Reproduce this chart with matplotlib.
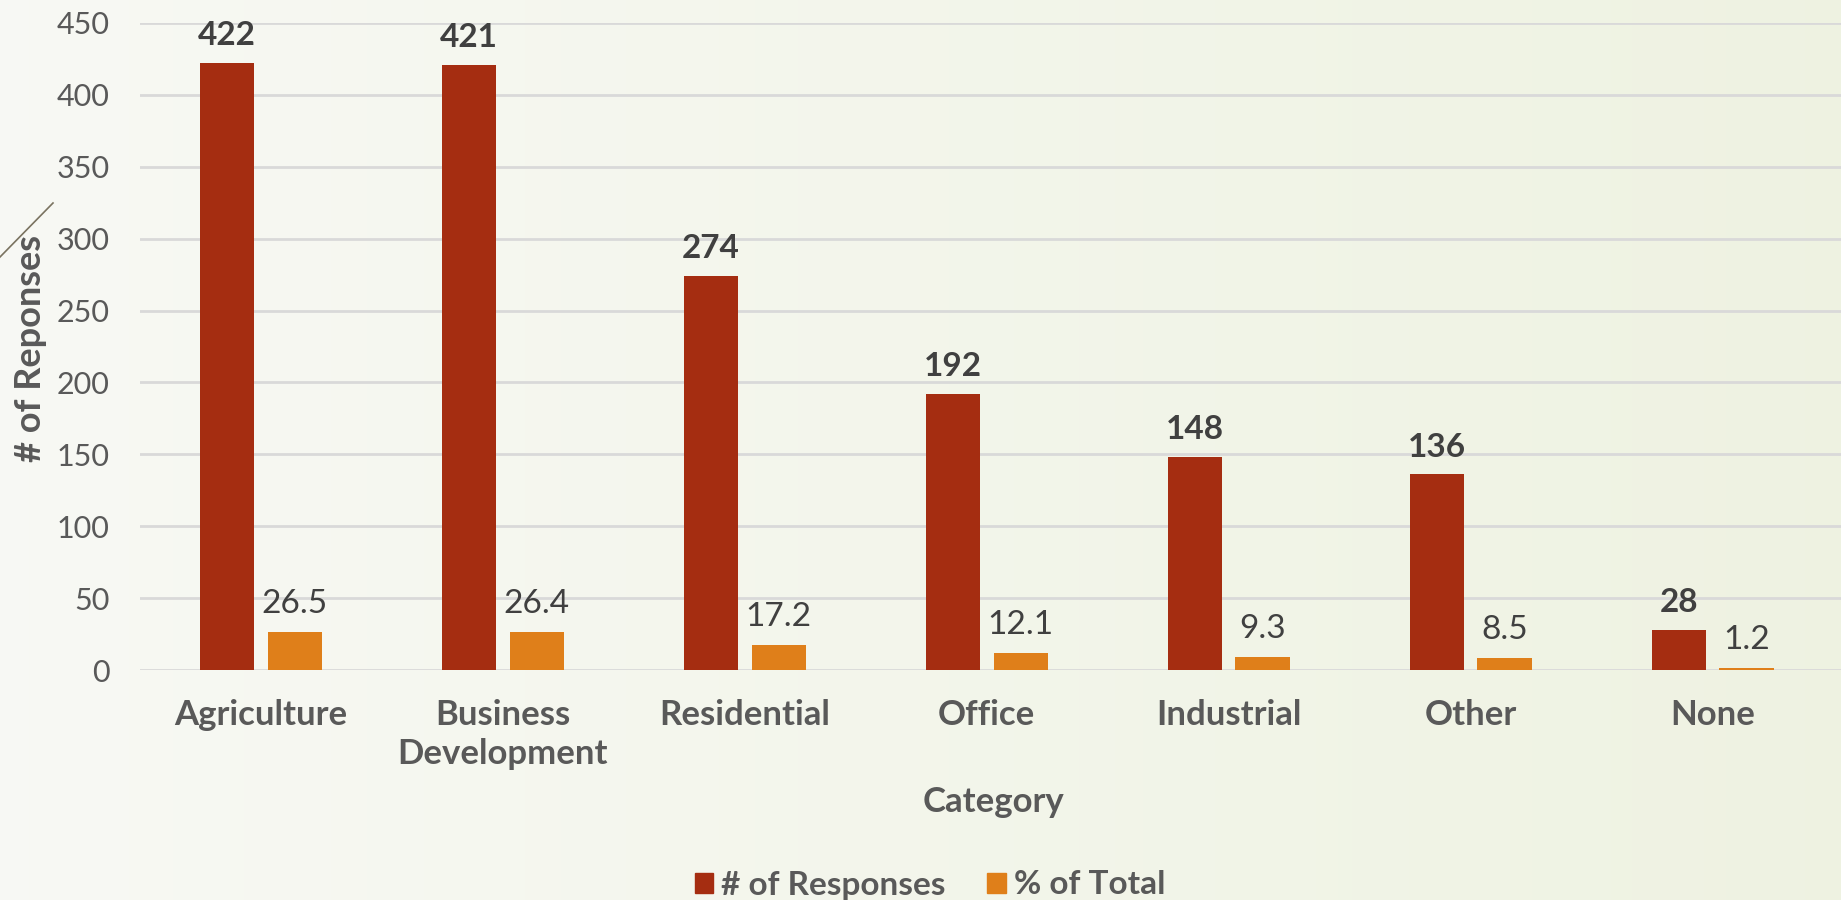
import numpy as np
import matplotlib.pyplot as plt
from matplotlib.lines import Line2D
from matplotlib.patches import Patch

# ----------------------------
# DATA
# ----------------------------
categories = ["Agriculture", "Business\nDevelopment", "Residential", "Office",
              "Industrial", "Other", "None"]
responses = [422, 421, 274, 192, 148, 136, 28]
pct_total = [26.5, 26.4, 17.2, 12.1, 9.3, 8.5, 1.2]

RED = "#A52D11"
ORANGE = "#DF7F1A"
TEXT = "#595959"
DARK = "#404040"

plt.rcParams["font.family"] = ["Lato", "DejaVu Sans"]

W, H = 1841, 900
fig = plt.figure(figsize=(W / 100, H / 100), dpi=100)

# background gradient (light cream to pale green on the right)
bg = fig.add_axes([0, 0, 1, 1], zorder=-10)
grad = np.linspace(0, 1, 256)[None, :]
c0 = np.array([0.972, 0.976, 0.958])
c1 = np.array([0.935, 0.950, 0.885])
img = c0[None, None, :] * (1 - grad[..., None]) + c1[None, None, :] * grad[..., None]
bg.imshow(img, aspect="auto", extent=[0, 1, 0, 1])
bg.axis("off")

# decorative diagonal line from the slide theme
fig.add_artist(Line2D([0, 53 / W], [1 - 257 / H, 1 - 203 / H], color="#7a7360", lw=1.2))

ax = fig.add_axes([140 / W, 1 - 670 / H, (W - 140) / W, (670 - 23) / H])
ax.patch.set_alpha(0)

x = np.arange(len(categories))
bw = 0.225
off = 0.14
ax.bar(x - off, responses, bw, color=RED, zorder=3)
ax.bar(x + off, pct_total, bw, color=ORANGE, zorder=3)

for xi, v in zip(x, responses):
    ax.text(xi - off, v + 9, str(v), ha="center", va="bottom", fontsize=24,
            fontweight="bold", color=DARK)
for xi, v in zip(x, pct_total):
    ax.text(xi + off, v + 9, f"{v:.1f}", ha="center", va="bottom", fontsize=24,
            color=DARK)

ax.set_xlim(-0.5, len(categories) - 0.5 + 0.03)
ax.set_ylim(0, 450)
ax.set_yticks(range(0, 451, 50))
ax.yaxis.grid(True, color="#d9d9d9", lw=2, zorder=0)
ax.tick_params(axis="y", length=0, labelsize=22, labelcolor=TEXT, pad=22)
ax.tick_params(axis="x", length=0, labelsize=25, labelcolor=TEXT, pad=21)
ax.set_xticks(x)
ax.set_xticklabels(categories, fontweight="bold", linespacing=1.25)
for s in ax.spines.values():
    s.set_visible(False)

fig.text(31 / W, 1 - 348 / H, "# of Reponses", rotation=90, ha="center", va="center",
         fontsize=26, fontweight="bold", color=TEXT)
fig.text(994 / W, 1 - 802 / H, "Category", ha="center", va="center",
         fontsize=25, fontweight="bold", color=TEXT)

handles = [Patch(color=RED), Patch(color=ORANGE)]
fig.legend(handles, ["# of Responses", "% of Total"], loc="center",
           bbox_to_anchor=(930 / W, 1 - 885 / H), ncol=2, frameon=False,
           prop={"size": 24, "weight": "bold"}, labelcolor=TEXT,
           handlelength=0.55, handleheight=0.55, handletextpad=0.25,
           columnspacing=1.25, borderpad=0, borderaxespad=0)

fig.savefig("out.png", dpi=100)
